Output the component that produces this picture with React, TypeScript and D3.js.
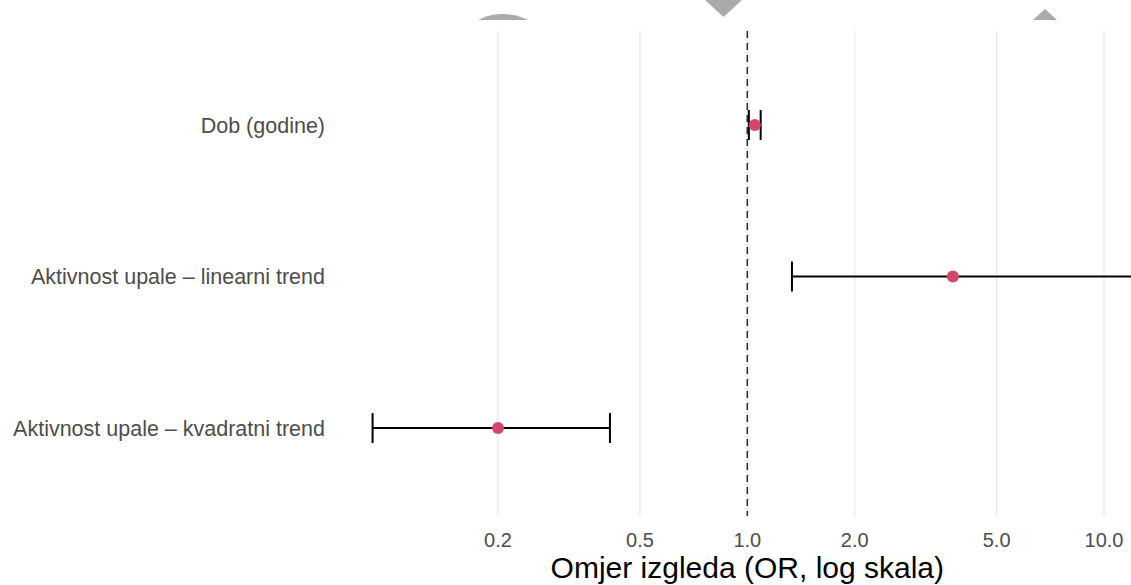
import React from "react";
import * as d3 from "d3";

const categories = [
  "Dob (godine)",
  "Aktivnost upale – linearni trend",
  "Aktivnost upale – kvadratni trend",
];
const oddsRatio = [1.05, 3.77, 0.2];
const ciLower = [1.01, 1.334, 0.089];
const ciUpper = [1.09, 13.5, 0.412];
const tickValues = [0.2, 0.5, 1.0, 2.0, 5.0, 10.0];
const tickLabels = ["0.2", "0.5", "1.0", "2.0", "5.0", "10.0"];

const W = 1131;
const H = 585;
const FONT = "'Liberation Sans', Arial, sans-serif";

export default function App() {
  const x = d3.scaleLog().domain([0.2, 10]).range([498, 1104]);
  const y = d3.scalePoint<string>().domain(categories).range([34, 519]).padding(0.6);
  const panelTop = 31;
  const panelBottom = 516;
  const capH = 15;
  const arc = d3.arc()({
    innerRadius: 0,
    outerRadius: 55,
    startAngle: -Math.PI / 2,
    endAngle: Math.PI / 2,
  } as any) as string;

  return (
    <svg
      width={W}
      height={H}
      style={{ position: "absolute", left: 0, top: 0, background: "#fff" }}
      fontFamily={FONT}
    >
      <defs>
        <clipPath id="topclip">
          <rect x={0} y={0} width={W} height={20} />
        </clipPath>
        <clipPath id="panelclip">
          <rect x={0} y={0} width={W} height={H} />
        </clipPath>
      </defs>
      {/* decorative grey shapes at top edge */}
      <g clipPath="url(#topclip)" fill="#aaaaaa">
        <path d={arc} transform="translate(503,69)" />
        <path d="M705,0 L742,0 L723.5,17 Z" />
        <path d="M1045,9 L1057,20 L1033,20 Z" />
      </g>
      {/* vertical grid */}
      <g>
        {tickValues.map((t, i) => (
          <line
            key={i}
            x1={x(t)}
            x2={x(t)}
            y1={panelTop}
            y2={panelBottom}
            stroke="#ebebeb"
            strokeWidth={1.5}
          />
        ))}
      </g>
      {/* reference line at OR = 1 */}
      <line
        x1={x(1)}
        x2={x(1)}
        y1={panelTop}
        y2={panelBottom}
        stroke="#333"
        strokeWidth={1.6}
        strokeDasharray="7,5"
      />
      {/* error bars */}
      <g clipPath="url(#panelclip)" stroke="#000" strokeWidth={2}>
        {categories.map((c, i) => {
          const yy = y(c)!;
          return (
            <g key={c}>
              <line x1={x(ciLower[i])} x2={x(ciUpper[i])} y1={yy} y2={yy} />
              <line x1={x(ciLower[i])} x2={x(ciLower[i])} y1={yy - capH} y2={yy + capH} />
              <line x1={x(ciUpper[i])} x2={x(ciUpper[i])} y1={yy - capH} y2={yy + capH} />
            </g>
          );
        })}
      </g>
      {/* points */}
      <g>
        {categories.map((c, i) => (
          <circle key={c} cx={x(oddsRatio[i])} cy={y(c)!} r={6} fill="#d4466b" />
        ))}
      </g>
      {/* y labels */}
      <g fill="#4d4d4d" fontSize={21.5} textAnchor="end">
        {categories.map((c) => (
          <text key={c} x={325} y={y(c)!} dy="0.36em">
            {c}
          </text>
        ))}
      </g>
      {/* x tick labels */}
      <g fill="#4d4d4d" fontSize={20} textAnchor="middle">
        {tickValues.map((t, i) => (
          <text key={i} x={x(t)} y={540} dy="0.36em">
            {tickLabels[i]}
          </text>
        ))}
      </g>
      <text x={x(1)} y={567} dy="0.36em" textAnchor="middle" fontSize={30} fill="#000">
        Omjer izgleda (OR, log skala)
      </text>
    </svg>
  );
}
